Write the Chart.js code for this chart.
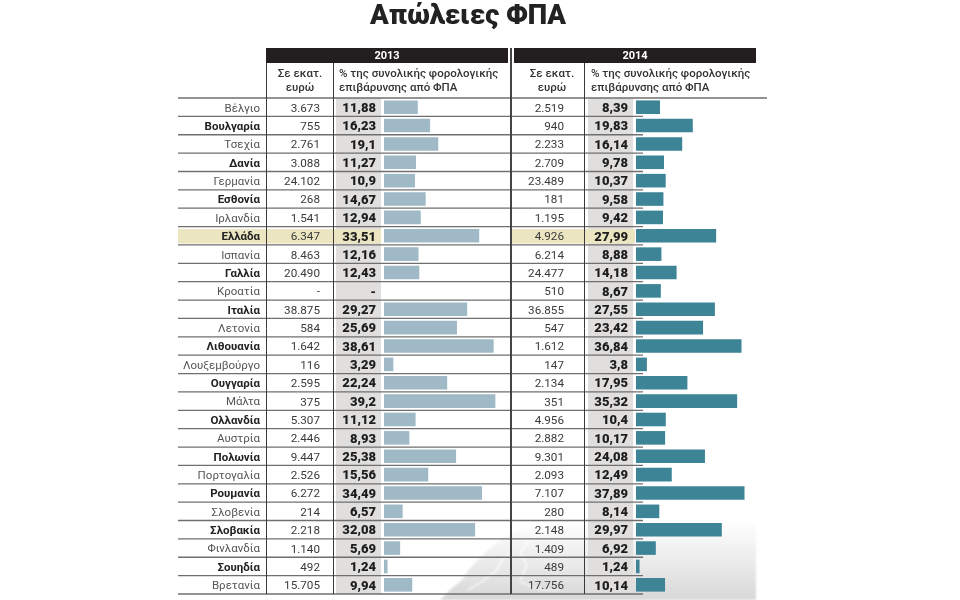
<!DOCTYPE html>
<html lang="el">
<head>
<meta charset="utf-8">
<title>Απώλειες ΦΠΑ</title>
<script src="https://cdn.jsdelivr.net/npm/chart.js@4"></script>
<style>
    html, body { margin: 0; padding: 0; background: #fff; overflow: hidden; }
    body { width: 960px; height: 600px; position: relative; font-family: Roboto, sans-serif; color: #333; }
    canvas, svg, .txt, .bar-head { position: absolute; }
    canvas, .txt, .bar-head, h1 { filter: blur(0.35px); }
    h1 { position: absolute; left: 272px; width: 392px; top: -5px; margin: 0; text-align: center; font-size: 27.5px; line-height: 40px; font-weight: 900; color: #222; }
    .bar-head { top: 48px; height: 15px; width: 242px; background: #231f20; color: #fff; text-align: center; font-size: 11px; line-height: 15px; font-weight: 700; }
    .txt { top: 67px; font-size: 11.5px; line-height: 13.5px; font-weight: 500; color: #333; white-space: nowrap; }
    .center { text-align: center; width: 66px; }
</style>
</head>
<body>
<svg width="960" height="600" style="left:0;top:0">
    <defs>
        <linearGradient id="fade" x1="0" y1="0" x2="0" y2="1">
            <stop offset="0" stop-color="#fff"/>
            <stop offset="1" stop-color="#d9d8d8"/>
        </linearGradient>
        <filter id="soft"><feGaussianBlur stdDeviation="0.8"/></filter>
    </defs>
    <!-- faded map behind the bottom rows -->
    <path fill="url(#fade)" filter="url(#soft)" d="M440 600L452 588L462 580L470 568L480 558L490 548L500 540L507 535L520 530L535 528L560 524L756 522V600Z"/>
    <path fill="none" stroke="#fff" stroke-width="1.2" filter="url(#soft)" d="M468 590L480 583L497 570L503 558L512 552M520 580L527 565L520 552L530 540L548 530M520 582L540 590L560 590"/>
</svg>

<h1>Απώλειες ΦΠΑ</h1>
<div class="bar-head" style="left:266px">2013</div>
<div class="bar-head" style="left:514px">2014</div>
<div class="txt center" style="left:267px">Σε εκατ.<br>ευρώ</div>
<div class="txt" style="left:339px">% της συνολικής φορολογικής<br>επιβάρυνσης από ΦΠΑ</div>
<div class="txt center" style="left:519px">Σε εκατ.<br>ευρώ</div>
<div class="txt" style="left:591px">% της συνολικής φορολογικής<br>επιβάρυνσης από ΦΠΑ</div>

<canvas id="chart-2013" width="510" height="600" style="left:0;top:0"></canvas>
<canvas id="chart-2014" width="260" height="600" style="left:510px;top:0"></canvas>

<script>
    const countries = ['Βέλγιο', 'Βουλγαρία', 'Τσεχία', 'Δανία', 'Γερμανία', 'Εσθονία', 'Ιρλανδία', 'Ελλάδα', 'Ισπανία',
        'Γαλλία', 'Κροατία', 'Ιταλία', 'Λετονία', 'Λιθουανία', 'Λουξεμβούργο', 'Ουγγαρία', 'Μάλτα', 'Ολλανδία', 'Αυστρία',
        'Πολωνία', 'Πορτογαλία', 'Ρουμανία', 'Σλοβενία', 'Σλοβακία', 'Φινλανδία', 'Σουηδία', 'Βρετανία'];

    const euros2013 = ['3.673', '755', '2.761', '3.088', '24.102', '268', '1.541', '6.347', '8.463',
        '20.490', '-', '38.875', '584', '1.642', '116', '2.595', '375', '5.307', '2.446',
        '9.447', '2.526', '6.272', '214', '2.218', '1.140', '492', '15.705'];
    const share2013 = [11.88, 16.23, 19.1, 11.27, 10.9, 14.67, 12.94, 33.51, 12.16,
        12.43, null, 29.27, 25.69, 38.61, 3.29, 22.24, 39.2, 11.12, 8.93,
        25.38, 15.56, 34.49, 6.57, 32.08, 5.69, 1.24, 9.94];

    const euros2014 = ['2.519', '940', '2.233', '2.709', '23.489', '181', '1.195', '4.926', '6.214',
        '24.477', '510', '36.855', '547', '1.612', '147', '2.134', '351', '4.956', '2.882',
        '9.301', '2.093', '7.107', '280', '2.148', '1.409', '489', '17.756'];
    const share2014 = [8.39, 19.83, 16.14, 9.78, 10.37, 9.58, 9.42, 27.99, 8.88,
        14.18, 8.67, 27.55, 23.42, 36.84, 3.8, 17.95, 35.32, 10.4, 10.17,
        24.08, 12.49, 37.89, 8.14, 29.97, 6.92, 1.24, 10.14];

    const highlightCountry = 'Ελλάδα';

    // Table look behind the bars, x values are relative to each canvas
    const tablePlugin = {
        id: 'tableCells',
        beforeDraw(chart, args, opts) {
            const ctx = chart.ctx;
            const y = chart.scales.y;
            const rowH = y.height / countries.length;
            ctx.save();

            ctx.fillStyle = '#e1dfde';
            ctx.fillRect(opts.greyLeft, y.top, opts.greyRight - opts.greyLeft, y.height);

            const hi = countries.indexOf(highlightCountry);
            ctx.fillStyle = '#ece5c1';
            ctx.fillRect(opts.ruleLeft + opts.hiInset, y.top + hi * rowH + 2.5, opts.hiRight - opts.ruleLeft - opts.hiInset, rowH - 4);

            ctx.strokeStyle = '#6f6f6f';
            ctx.lineWidth = 1.3;
            for (let i = 0; i <= countries.length; i++) {
                const py = y.top + i * rowH;
                ctx.beginPath();
                ctx.moveTo(opts.ruleLeft, py);
                ctx.lineTo(i === 0 ? opts.topRuleRight : opts.ruleRight, py);
                ctx.stroke();
            }

            ctx.strokeStyle = '#3a3a3a';
            ctx.lineWidth = 1;
            opts.columnLines.forEach(x => {
                ctx.beginPath();
                ctx.moveTo(x, 63);
                ctx.lineTo(x, y.bottom);
                ctx.stroke();
            });
            if (opts.divider) {
                ctx.lineWidth = 2;
                ctx.strokeStyle = '#444';
                ctx.beginPath();
                ctx.moveTo(1, 48);
                ctx.lineTo(1, y.bottom);
                ctx.stroke();
            }

            // the two number columns
            ctx.textAlign = 'right';
            ctx.textBaseline = 'middle';
            countries.forEach((name, i) => {
                const py = y.getPixelForValue(i) + 1.5;
                const share = chart.data.datasets[0].data[i];
                ctx.font = '400 11.7px Roboto';
                ctx.fillStyle = '#3a3a3a';
                ctx.fillText(opts.euros[i], opts.euroRight, py);
                ctx.font = '900 13px Roboto';
                ctx.fillStyle = '#1d1d1d';
                ctx.fillText(share === null ? '-' : String(share).replace('.', ','), opts.shareRight, py);
            });
            ctx.restore();
        }
    };

    function drawPanel(canvasId, label, shares, barColor, yWidth, showNames, cells) {
        new Chart(document.getElementById(canvasId), {
            type: 'bar',
            data: {
                labels: countries,
                datasets: [{
                    label: label,
                    data: shares,
                    backgroundColor: barColor,
                    borderWidth: 0,
                    barPercentage: 0.74,
                    categoryPercentage: 1
                }]
            },
            options: {
                indexAxis: 'y',
                responsive: false,
                animation: false,
                layout: {padding: {top: 98, bottom: 6, right: cells.padRight}},
                scales: {
                    x: {display: false, min: 0, max: 44},
                    y: {
                        afterFit: scale => {
                            scale.width = yWidth;
                            scale.paddingTop = 0;
                            scale.paddingBottom = 0;
                        },
                        border: {display: false},
                        // long invisible tick marks push the names out to the first column
                        grid: {drawOnChartArea: false, drawTicks: true, tickLength: 124, tickColor: 'transparent'},
                        ticks: {
                            display: showNames,
                            autoSkip: false,
                            padding: 0,
                            labelOffset: 1.5,
                            color: c => (c.index % 2 ? '#222' : '#555'),
                            font: c => ({family: 'Roboto', size: 11.5, weight: c.index % 2 ? '700' : '400'})
                        }
                    }
                },
                plugins: {
                    legend: {display: false},
                    tooltip: {enabled: false},
                    tableCells: cells
                }
            },
            plugins: [tablePlugin]
        });
    }

    drawPanel('chart-2013', '2013', share2013, '#9fb9c6', 384, true, {
        euros: euros2013, padRight: 1,
        greyLeft: 336, greyRight: 381, hiRight: 381, hiInset: 0,
        ruleLeft: 178, ruleRight: 510, topRuleRight: 510,
        columnLines: [266.5, 333.5], euroRight: 320, shareRight: 376
    });

    drawPanel('chart-2014', '2014', share2014, '#3d8497', 126, false, {
        euros: euros2014, padRight: 8,
        greyLeft: 78, greyRight: 123, hiRight: 125, hiInset: 1,
        ruleLeft: 0, ruleRight: 133, topRuleRight: 257,
        columnLines: [74.5], euroRight: 54, shareRight: 118, divider: true
    });
</script>
</body>
</html>
